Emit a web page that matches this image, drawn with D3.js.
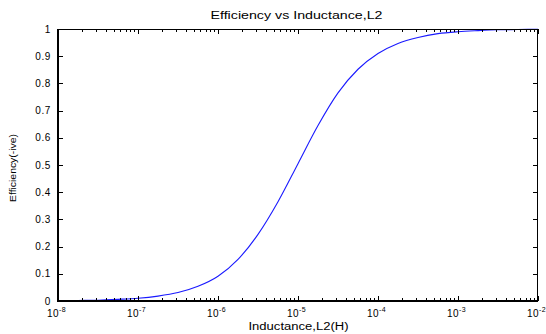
<!DOCTYPE html>
<html>
<head>
<meta charset="utf-8">
<script src="https://cdn.jsdelivr.net/npm/d3@7"></script>
<style>
  html, body { margin: 0; padding: 0; background: #fff; }
  svg { display: block; font-family: "Liberation Sans", Arial, sans-serif; }
</style>
</head>
<body>
<div id="chart-area"></div>
<script>
// data: log10 of inductance and efficiency
const logL = [-8, -7.75, -7.5, -7.25, -7, -6.75, -6.5, -6.25, -6, -5.75, -5.5, -5.25, -5,
  -4.75, -4.5, -4.25, -4, -3.75, -3.5, -3.25, -3, -2.75, -2.5, -2.25, -2];
const efficiency = [0.001, 0.002, 0.003, 0.006, 0.010, 0.018, 0.031, 0.054, 0.091, 0.153, 0.245, 0.365, 0.505,
  0.645, 0.765, 0.852, 0.910, 0.947, 0.969, 0.983, 0.990, 0.994, 0.997, 0.998, 0.999];
const xTickExps = [-8, -7, -6, -5, -4, -3, -2];
const yTicks = [0, 0.1, 0.2, 0.3, 0.4, 0.5, 0.6, 0.7, 0.8, 0.9, 1];

const WIDTH = 546, HEIGHT = 334;
const MARGIN = { LEFT: 58, RIGHT: 8, TOP: 29, BOTTOM: 33 };

const svg = d3.select("#chart-area")
  .append("svg")
    .attr("width", WIDTH)
    .attr("height", HEIGHT);

const x = d3.scaleLog()
  .domain([1e-8, 1e-2])
  .range([MARGIN.LEFT, WIDTH - MARGIN.RIGHT]);

const y = d3.scaleLinear()
  .domain([0, 1])
  .range([HEIGHT - MARGIN.BOTTOM, MARGIN.TOP]);

const x0 = x.range()[0], x1 = x.range()[1];
const y0 = y.range()[0], y1 = y.range()[1];

// curve
const data = logL.map((d, i) => ({ L: Math.pow(10, d), e: efficiency[i] }));
svg.append("path")
  .datum(data)
  .attr("fill", "none")
  .attr("stroke", "#1a1aff")
  .attr("stroke-width", 1.1)
  .attr("d", d3.line()
    .x(d => x(d.L))
    .y(d => y(d.e))
    .curve(d3.curveMonotoneX));

// ticks, inward like matlab
const ticks = svg.append("g").attr("stroke", "#000").attr("stroke-width", 1);
x.ticks().forEach(t => {
  const major = Math.abs(Math.log10(t) - Math.round(Math.log10(t))) < 1e-6;
  const len = major ? 5 : 3;
  const px = Math.round(x(t)) + 0.5;
  ticks.append("line").attr("x1", px).attr("x2", px).attr("y1", y0).attr("y2", y0 - len);
  ticks.append("line").attr("x1", px).attr("x2", px).attr("y1", y1).attr("y2", y1 + len);
});
yTicks.forEach(t => {
  const py = Math.round(y(t)) + 0.5;
  ticks.append("line").attr("x1", x0).attr("x2", x0 + 5).attr("y1", py).attr("y2", py);
  ticks.append("line").attr("x1", x1).attr("x2", x1 - 5).attr("y1", py).attr("y2", py);
});

// box
svg.append("line").attr("x1", x0).attr("x2", x1).attr("y1", y1 + 0.5).attr("y2", y1 + 0.5)
  .attr("stroke", "#000").attr("stroke-width", 1);
svg.append("line").attr("x1", x1 - 0.5).attr("x2", x1 - 0.5).attr("y1", y1).attr("y2", y0)
  .attr("stroke", "#000").attr("stroke-width", 1);
svg.append("line").attr("x1", x0).attr("x2", x0).attr("y1", y1).attr("y2", y0 + 1)
  .attr("stroke", "#000").attr("stroke-width", 2);
svg.append("line").attr("x1", x0 - 1).attr("x2", x1).attr("y1", y0).attr("y2", y0)
  .attr("stroke", "#000").attr("stroke-width", 2);

// y tick labels
svg.append("g").selectAll("text")
  .data(yTicks)
  .enter()
  .append("text")
    .attr("x", x0 - 7)
    .attr("y", d => y(d) + 3.5)
    .attr("text-anchor", "end")
    .attr("font-size", "10px")
    .attr("letter-spacing", "0.6px")
    .text(d => d3.format("")(d));

// x tick labels as 10^n
const xl = svg.append("g").selectAll("text")
  .data(xTickExps)
  .enter()
  .append("text")
    .attr("x", d => x(Math.pow(10, d)) - 11)
    .attr("y", y0 + 16)
    .attr("font-size", "10px")
    .attr("letter-spacing", "0.4px");
xl.append("tspan").text("10");
xl.append("tspan")
  .attr("dy", -5)
  .attr("font-size", "7px")
  .text(d => d);

// title and axis labels
svg.append("text")
  .attr("x", 296.5)
  .attr("y", 19)
  .attr("text-anchor", "middle")
  .attr("font-size", "10px")
  .attr("textLength", 172)
  .attr("lengthAdjust", "spacingAndGlyphs")
  .text("Efficiency vs Inductance,L2");

svg.append("text")
  .attr("x", 298.5)
  .attr("y", 330)
  .attr("text-anchor", "middle")
  .attr("font-size", "10px")
  .attr("textLength", 100)
  .attr("lengthAdjust", "spacingAndGlyphs")
  .text("Inductance,L2(H)");

svg.append("text")
  .attr("transform", `translate(16, 168) rotate(-90)`)
  .attr("text-anchor", "middle")
  .attr("font-size", "8.5px")
  .attr("textLength", 68)
  .attr("lengthAdjust", "spacingAndGlyphs")
  .text("Efficiency(-ive)");
</script>
</body>
</html>
